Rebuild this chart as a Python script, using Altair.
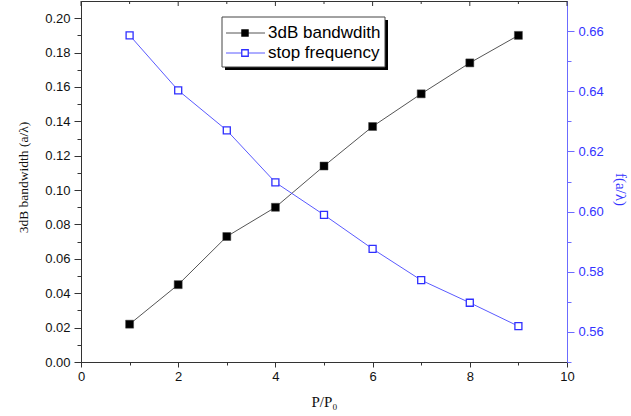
import altair as alt
import pandas as pd

# ---- data ----
P = [1, 2, 3, 4, 5, 6, 7, 8, 9]
BANDWIDTH = [0.022, 0.045, 0.073, 0.090, 0.114, 0.137, 0.156, 0.174, 0.190]
STOP_FREQ = [0.6586, 0.6403, 0.6270, 0.6097, 0.5989, 0.5876, 0.5772, 0.5697, 0.5619]
SERIES = ["3dB bandwdith", "stop frequency"]
X_TICKS = list(range(0, 11))
LEFT_TICKS = [round(i * 0.01, 2) for i in range(0, 21)]
RIGHT_TICKS = [round(0.55 + i * 0.01, 2) for i in range(0, 12)]

df = pd.DataFrame({"P": P, "bw": BANDWIDTH, "sf": STOP_FREQ})
leg = pd.DataFrame({"series": SERIES})
ticks = pd.DataFrame({"P": X_TICKS})

W, H = 486, 361
BLUE_AX = "#6b6bff"
BLUE_TX = "#3333ff"
DARK = "#333333"
SANS = "Liberation Sans"
SERIF = "Liberation Serif"

even2 = "round(datum.value*100) % 2 == 0"

x_scale = alt.Scale(domain=[0, 10], nice=False, zero=False)
x_axis = alt.Axis(
    values=X_TICKS,
    labelExpr="datum.value % 2 == 0 ? datum.label : ''",
    tickSize={"condition": {"test": "datum.value % 2 == 0", "value": 5}, "value": 3},
    labelFlush=False,
    labelOverlap=False,
    labelPadding=3,
    titlePadding=11,
    titleFontSize=15,
    grid=False,
)
left_axis = alt.Axis(
    values=LEFT_TICKS,
    labelExpr=f"{even2} ? format(datum.value, '.2f') : ''",
    tickSize={"condition": {"test": even2, "value": 7}, "value": 4},
    labelFlush=False,
    labelOverlap=False,
    labelPadding=4,
    titlePadding=14,
    titleFontSize=13.5,
    titleY=176,
    grid=False,
)
right_axis = alt.Axis(
    orient="right",
    values=RIGHT_TICKS,
    labelExpr=f"{even2} ? format(datum.value, '.2f') : ''",
    tickSize={"condition": {"test": even2, "value": 7}, "value": 4},
    labelFlush=False,
    labelOverlap=False,
    labelPadding=4,
    titlePadding=9,
    titleFontSize=15,
    titleY=188,
    grid=False,
    domainColor=BLUE_AX,
    tickColor=BLUE_AX,
    labelColor=BLUE_TX,
    titleColor=BLUE_TX,
)

base = alt.Chart(df)
x_enc = alt.X("P:Q", scale=x_scale, axis=x_axis, title="P/P₀")
y_left = alt.Y("bw:Q", scale=alt.Scale(domain=[0, 0.21], nice=False, zero=False),
               axis=left_axis, title="3dB bandwidth (a/λ)")
y_right = alt.Y("sf:Q", scale=alt.Scale(domain=[0.55, 0.67], nice=False, zero=False),
                axis=right_axis, title="f(a/λ)")

bw = alt.layer(
    base.mark_line(color="#555555", strokeWidth=1).encode(x=x_enc, y=y_left),
    base.mark_point(shape="square", filled=True, color="black", size=64, opacity=1,
                    stroke="#444444", strokeWidth=0.5).encode(x=x_enc, y=y_left),
)
sf = alt.layer(
    base.mark_line(color="#5a5aff", strokeWidth=1).encode(x=x_enc, y=y_right),
    base.mark_point(shape="square", filled=False, fill="white", stroke="#2f2fff",
                    strokeWidth=1.3, size=49, opacity=1).encode(x=x_enc, y=y_right),
)

# top frame inward ticks (same x scale and axis definition so axes merge)
top_major = alt.Chart(ticks).transform_filter("datum.P % 2 == 0").mark_rule(
    color=DARK, strokeWidth=1).encode(x=x_enc, y=alt.value(0), y2=alt.value(5))
top_minor = alt.Chart(ticks).transform_filter("datum.P % 2 == 1").mark_rule(
    color=DARK, strokeWidth=1).encode(x=x_enc, y=alt.value(0), y2=alt.value(3))

# legend (drawn in pixel space, inside plot)
one = alt.Chart(leg).transform_filter(alt.datum.series == SERIES[0])
two = alt.Chart(leg).transform_filter(alt.datum.series == SERIES[1])
shadow = one.mark_rect(color="black").encode(
    x=alt.value(144), x2=alt.value(307), y=alt.value(19), y2=alt.value(69))
box = one.mark_rect(fill="white", stroke="#444444", strokeWidth=1).encode(
    x=alt.value(141), x2=alt.value(304), y=alt.value(16), y2=alt.value(66))
l1 = one.mark_rule(color="#555555", strokeWidth=1).encode(
    x=alt.value(145), x2=alt.value(184), y=alt.value(32))
l2 = two.mark_rule(color="#5a5aff", strokeWidth=1).encode(
    x=alt.value(145), x2=alt.value(184), y=alt.value(52))
p1 = one.mark_point(shape="square", filled=True, color="black", size=56, opacity=1).encode(
    x=alt.value(164), y=alt.value(32))
p2 = two.mark_point(shape="square", filled=False, fill="white", stroke="#2f2fff",
                    strokeWidth=1.3, size=42, opacity=1).encode(
    x=alt.value(164), y=alt.value(52))
t1 = one.mark_text(align="left", baseline="middle", font=SANS, fontSize=17, color="black").encode(
    x=alt.value(187), y=alt.value(32), text="series:N")
t2 = two.mark_text(align="left", baseline="middle", font=SANS, fontSize=17, color="black").encode(
    x=alt.value(187), y=alt.value(52), text="series:N")

chart = alt.layer(
    bw, sf, top_major, top_minor, shadow, box, l1, l2, p1, p2, t1, t2
).resolve_scale(y="independent").properties(
    width=W, height=H,
    autosize=alt.AutoSizeParams(type="none"),
    padding={"left": 81, "top": 1, "right": 64, "bottom": 54},
).configure_view(
    stroke=DARK, strokeWidth=1
).configure_axis(
    domainColor=DARK, tickColor=DARK, labelColor="#111111",
    labelFont=SANS, labelFontSize=13,
    titleFont=SERIF, titleFontWeight="normal", titleColor="#111111",
)

chart.save("out.html", embed_options={"renderer": "svg", "actions": False})
